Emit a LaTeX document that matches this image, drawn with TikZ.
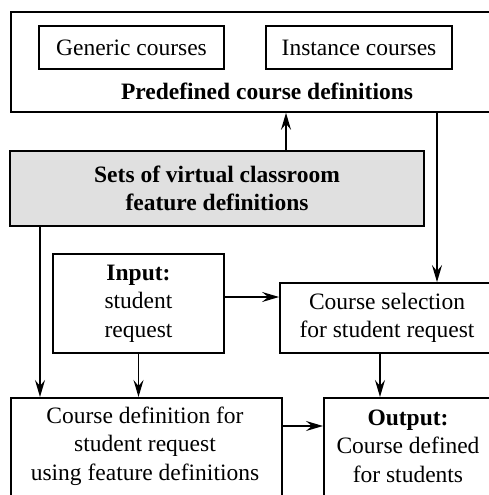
\documentclass[tikz,border=0pt]{standalone}
\usepackage{fontspec}
\setmainfont{Liberation Serif}
\usepackage{tikz}
\usetikzlibrary{calc,positioning,arrows.meta}
\usepackage{xcolor}
\definecolor{boxgray}{RGB}{224,224,224}

\begin{document}
\begin{tikzpicture}[x=1pt,y=-1pt,
    font=\fontsize{23.5}{28.5}\selectfont,
    box/.style={draw, line width=1.8pt, rectangle, inner sep=0pt},
    txt/.style={align=center, inner sep=0pt},
    arr/.style={line width=1.7pt, -{Stealth[length=17pt,width=10pt,inset=6pt]}}]
  \clip (0,0) rectangle (489,495);
  \useasboundingbox (0,0) rectangle (489,495);

  % Predefined course definitions (top)
  \node[box, minimum width=514pt, minimum height=100pt, anchor=north west] (predef) at (10,11) {};
  \node[box, minimum width=185pt, minimum height=43pt] (generic) at (131.5,47.5) {Generic courses};
  \node[box, minimum width=186pt, minimum height=43pt] (instance) at (359,47.5) {Instance courses};
  \node[txt] (predeflbl) at (267,91) {\textbf{Predefined course definitions}};

  % Feature definitions
  \node[box, txt, fill=boxgray, minimum width=414pt, minimum height=75pt] (sets) at (217,188.5)
    {\textbf{Sets of virtual classroom}\\\textbf{feature definitions}};

  % Input and selection
  \node[box, txt, minimum width=171pt, minimum height=99pt] (input) at (138.5,303.5)
    {\textbf{Input:}\\student\\request};
  \node[box, txt, minimum width=214pt, minimum height=70pt] (sel) at (387,318)
    {Course selection\\for student request};

  % Bottom row
  \node[box, minimum width=271pt, minimum height=130pt, anchor=north west] (cdef) at (10,397) {};
  \node[txt] (cdeftxt) at (145,446) {Course definition for\\student request\hspace*{30pt}\\using feature definitions};
  \node[box, minimum width=170pt, minimum height=130pt, anchor=north west] (output) at (323,397) {};
  \node[txt] (outputtxt) at (408,446) {\textbf{Output:}\\Course defined\\for students};

  % Helper coordinates for the connectors
  \coordinate (upx) at (286,0);
  \coordinate (rx) at (437,0);
  \coordinate (lx) at (40,0);
  \coordinate (mx) at (380,0);
  \coordinate (hy) at (0,297);
  \coordinate (by) at (0,426);

  % Connectors
  \draw[arr] (sets.north -| upx) -- (predef.south -| upx);
  \draw[arr] (predef.south -| rx) -- (sel.north -| rx);
  \draw[arr] (sets.south -| lx) -- (cdef.north -| lx);
  \draw[arr] (input.east |- hy) -- (sel.west |- hy);
  \draw[arr] (input.south) -- (input.south |- cdef.north);
  \draw[arr] (sel.south -| mx) -- (output.north -| mx);
  \draw[arr] (cdef.east |- by) -- (output.west |- by);
\end{tikzpicture}
\end{document}
